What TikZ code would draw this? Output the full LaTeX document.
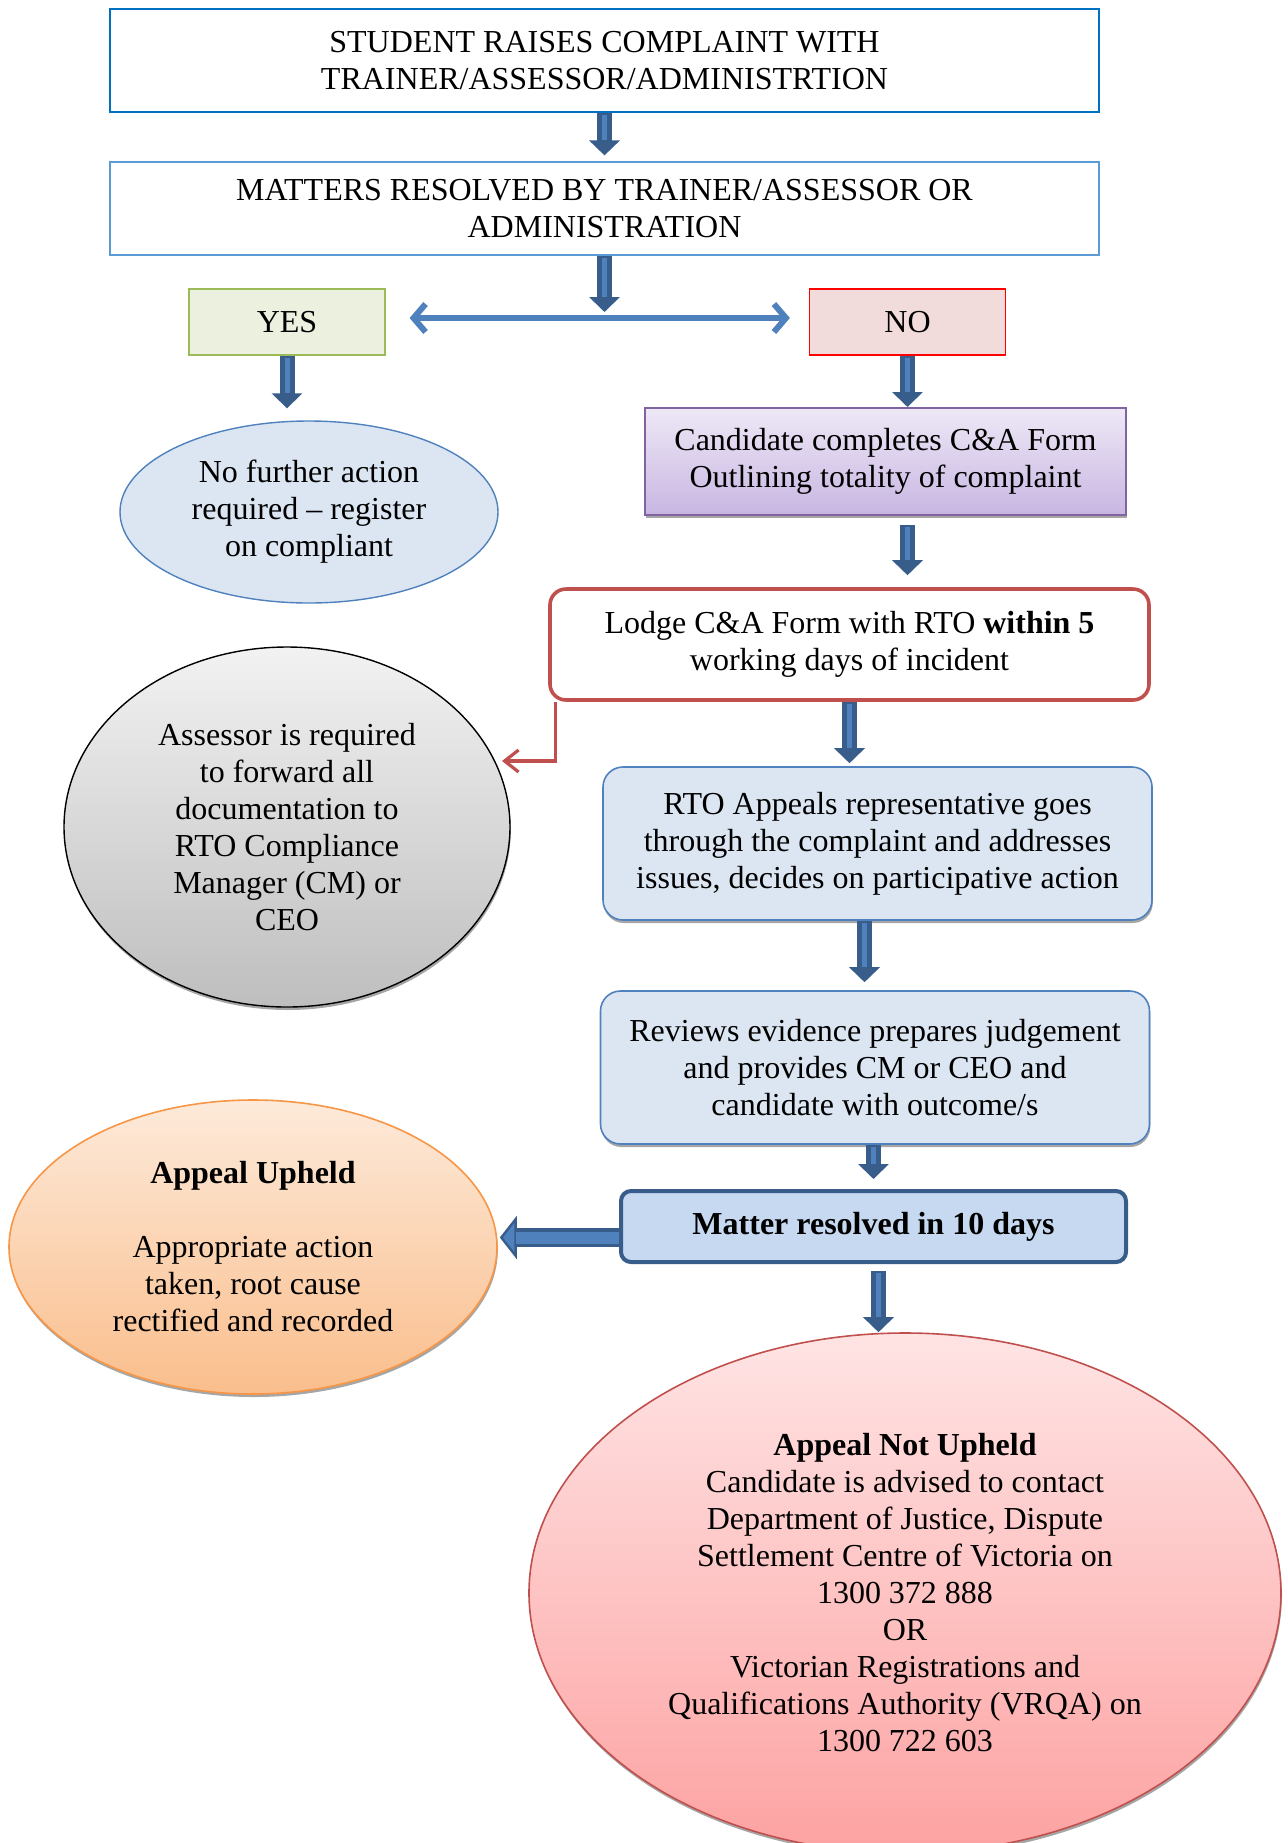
\documentclass[tikz,border=0pt]{standalone}
\usepackage{fontspec}
\setmainfont{Liberation Serif}
\usetikzlibrary{shapes.geometric,arrows.meta,shadows,calc}
\definecolor{topblue}{RGB}{0,112,192}
\definecolor{paleblue}{RGB}{91,155,213}
\definecolor{boxfill}{RGB}{220,230,242}
\definecolor{boxline}{RGB}{79,129,189}
\definecolor{darkline}{RGB}{56,93,138}
\definecolor{matterfill}{RGB}{198,217,241}
\definecolor{yesfill}{RGB}{235,241,222}
\definecolor{yesline}{RGB}{155,187,89}
\definecolor{nofill}{RGB}{242,220,219}
\definecolor{lodgeline}{RGB}{192,80,77}
\definecolor{purpletop}{RGB}{238,232,246}
\definecolor{purplebot}{RGB}{200,182,226}
\definecolor{purpleline}{RGB}{128,100,162}
\definecolor{orangetop}{RGB}{253,234,218}
\definecolor{orangebot}{RGB}{250,190,140}
\definecolor{orangeline}{RGB}{247,150,70}
\definecolor{pinktop}{RGB}{255,228,228}
\definecolor{pinkbot}{RGB}{253,162,162}
\definecolor{graytop}{RGB}{242,242,242}
\definecolor{graybot}{RGB}{190,190,190}
\tikzset{
  every node/.style={font=\fontsize{16}{18.5}\selectfont, align=center, inner sep=0pt},
  softshadow/.style={drop shadow={shadow xshift=0.4pt, shadow yshift=-1.5pt, fill=black, opacity=0.35}},
  headbox/.style={draw=topblue, line width=1.2pt, minimum width=494.5pt, minimum height=51.5pt},
  resolvebox/.style={draw=paleblue, line width=0.6pt, minimum width=494.5pt, minimum height=46.5pt},
  yesbox/.style={draw=yesline, fill=yesfill, line width=0.6pt, minimum width=98pt, minimum height=33pt},
  nobox/.style={draw=red, fill=nofill, line width=0.6pt, minimum width=98pt, minimum height=33pt},
  blueoval/.style={ellipse, draw=boxline, fill=boxfill, line width=0.7pt, minimum width=189pt, minimum height=91pt},
  formbox/.style={draw=purpleline, line width=1pt, top color=purpletop, bottom color=purplebot, minimum width=240.5pt, minimum height=53.5pt, softshadow},
  lodgebox/.style={draw=lodgeline, fill=white, line width=1.8pt, rounded corners=8pt, minimum width=299.5pt, minimum height=55.5pt},
  grayoval/.style={ellipse, draw=black, line width=0.7pt, top color=graytop, bottom color=graybot, minimum width=223pt, minimum height=180pt, softshadow},
  stepbox/.style={draw=boxline, fill=boxfill, line width=0.8pt, rounded corners=10pt, minimum width=274.5pt, minimum height=76.5pt, softshadow},
  matterbox/.style={draw=darkline, fill=matterfill, line width=2pt, rounded corners=5pt, minimum width=252.5pt, minimum height=35.5pt},
  orangeoval/.style={ellipse, draw=orangeline, line width=0.8pt, top color=orangetop, bottom color=orangebot, minimum width=244pt, minimum height=147pt, softshadow},
  pinkoval/.style={ellipse, draw=lodgeline, line width=0.8pt, top color=pinktop, bottom color=pinkbot, minimum width=376pt, minimum height=260pt, softshadow},
  flowarrow/.style={draw=darkline, line width=7.5pt, -{Triangle[length=7.5pt, width=15pt]}, postaction={draw=boxline, line width=2.5pt, -, shorten >=7.5pt, shorten <=1pt}},
  bigarrow/.style={draw=darkline, line width=9.5pt, -{Triangle[length=8.5pt, width=21.5pt, fill=boxline, line width=1.2pt]}, postaction={draw=boxline, line width=6pt, -, shorten >=8pt}},
  splitarrow/.style={draw=boxline, line width=3pt, {Straight Barb[length=6pt, width=14pt]}-{Straight Barb[length=6pt, width=14pt]}},
  redarrow/.style={draw=lodgeline, line width=1.6pt, -{Straight Barb[length=7pt, width=11pt]}}
}
\begin{document}
\begin{tikzpicture}[x=0.5pt, y=-0.5pt]
    \useasboundingbox (0,0) rectangle (1287,1843);
    \node[headbox] (raise) at (604.5,60.5) {STUDENT RAISES COMPLAINT WITH\\TRAINER/ASSESSOR/ADMINISTRTION};
    \node[resolvebox] (resolve) at (604.5,208.5) {MATTERS RESOLVED BY TRAINER/ASSESSOR OR\\ADMINISTRATION};
    \node[yesbox] (yes) at (287,322) {YES};
    \node[nobox] (no) at (907.5,322) {NO};
    \node[blueoval] (nofurther) at (309,512) {No further action\\required -- register\\on compliant};
    \node[formbox] (form) at (885.5,461.5) {Candidate completes C\&A Form\\Outlining totality of complaint};
    \node[lodgebox] (lodge) at (849.5,644.5) {Lodge C\&A Form with RTO \textbf{within 5}\\working days of incident};
    \node[grayoval] (assessor) at (287,827) {Assessor is required\\to forward all\\documentation to\\RTO Compliance\\Manager (CM) or\\CEO};
    \node[stepbox] (appeals) at (877.5,843.5) {RTO Appeals representative goes\\through the complaint and addresses\\issues, decides on participative action};
    \node[stepbox] (reviews) at (875,1067.5) {Reviews evidence prepares judgement\\and provides CM or CEO and\\candidate with outcome/s};
    \node[matterbox] (matter) at (873.5,1226.5) {\textbf{Matter resolved in 10 days}};
    \node[orangeoval] (upheld) at (253,1247) {\textbf{Appeal Upheld}\\[18.5pt]Appropriate action\\taken, root cause\\rectified and recorded};
    \node[pinkoval] (notupheld) at (905,1593) {\textbf{Appeal Not Upheld}\\Candidate is advised to contact\\Department of Justice, Dispute\\Settlement Centre of Victoria on\\1300 372 888\\OR\\Victorian Registrations and\\Qualifications Authority (VRQA) on\\1300 722 603};
    \coordinate (split) at ($(resolve.south |- yes.east)+(0,-4)$);
    \coordinate (assessorin) at (502,761);
    \draw[flowarrow] (raise.south) -- ($(resolve.north)+(0,-6)$);
    \draw[flowarrow] (resolve.south) -- ($(split)+(0,-6)$);
    \draw[splitarrow] ($(split -| yes.east)+(24,0)$) -- ($(split -| no.west)+(-19,0)$);
    \draw[flowarrow] (yes.south) -- ($(yes.south |- nofurther.north)+(0,-12)$);
    \draw[flowarrow] (no.south) -- (no.south |- form.north);
    \draw[flowarrow] ($(no.south |- form.south)+(0,9)$) -- ($(no.south |- lodge.north)+(0,-12)$);
    \draw[flowarrow] (lodge.south) -- ($(lodge.south |- appeals.north)+(0,-3)$);
    \draw[flowarrow] ($(appeals.south)+(-13,0)$) -- ($(appeals.south |- reviews.north)+(-13,-8)$);
    \draw[flowarrow] (matter.north |- reviews.south) -- ($(matter.north)+(0,-10)$);
    \draw[flowarrow] ($(matter.south)+(5,7)$) -- ($(matter.south |- notupheld.north)+(5,0)$);
    \draw[bigarrow] ($(matter.west)+(0,11)$) -- ($(matter.west -| upheld.east)+(2,11)$);
    \draw[redarrow] ($(lodge.south west)+(7,0)$) |- (assessorin);
\end{tikzpicture}
\end{document}
